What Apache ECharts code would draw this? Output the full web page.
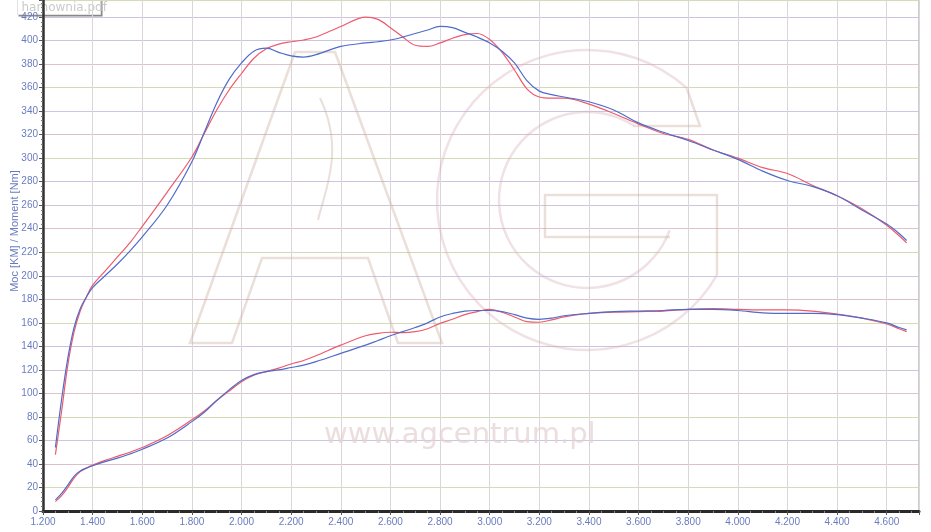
<!DOCTYPE html>
<html><head><meta charset="utf-8">
<script src="https://cdn.jsdelivr.net/npm/echarts@6/dist/echarts.min.js"></script>
<style>html,body{margin:0;padding:0;background:#fff}#c{width:931px;height:532px}</style>
</head><body><div id="c"></div>
<script>
const rpm = [1250,1275,1300,1325,1350,1375,1400,1450,1500,1550,1600,1700,1800,1850,1900,1950,2000,2050,2100,2150,2200,2250,2300,2400,2500,2550,2600,2650,2700,2750,2800,2850,2900,2950,3000,3050,3100,3150,3200,3250,3300,3400,3500,3600,3700,3800,3900,4000,4100,4200,4300,4400,4500,4600,4650,4680];
const torqueBlue = [54,95,130,156,172,182,190,200,210,221,233,260,297,322,347,367,381,391,393.5,390,387,386,388,395,398,399,400.5,403,406,409,412,411,407,403,398,391,381,366,357,354,352,348,341,330,322,315,307,299,289,281,276,268,256,244,236,230];
const torqueRed = [48,85,124,152,170,182,192,204,216,228,242,271,301,321,341,358,372,385,393,397,399,400.5,403,412,420,418,411,403,396,395,398,402,405,406,401,390,375,359,352,351,351,346,338,329,321,316,307,300,292,287,277,268,257,243,234,228];
const powerBlue = [9.5,15,22,29.5,34,36.5,38.5,42,45,48.5,52.5,62,76,84,94,103,111,116,118.5,120,122,124,127,134,141,145,149,152.5,156,160,165,168,170,170.5,170.5,169.5,167,164,163,164,166,168,169.5,170,170.5,171.5,171.5,170.5,168.5,168,168,167,164,160,156,154];
const powerRed = [8,13,20,28,33.5,36.5,39,43,46.5,50,54,64,77.5,85,94,102,110,115.5,118.5,121.5,125,128,132,141,149,151,152,151.6,152.5,155,159.5,163,167,169.5,171.5,169,165,161,160.5,162.5,165,168,169,169.5,170,171.5,172,171.5,171,171,170,167.5,164,159,155,152.5];
const xTickStep = 200;
const yTickStep = 20;

const pair = arr => rpm.map((r, i) => [r, arr[i]]);
const chart = echarts.init(document.getElementById('c'));
const wm = 'rgba(200,172,155,0.38)';
const wm2 = 'rgba(215,175,185,0.38)';
const labelColor = '#6a7cbf';
const deg = Math.PI / 180;

chart.setOption({
  animation: false,
  backgroundColor: '#fff',
  grid: { left: 43, right: 12, top: 0, bottom: 21, show: true, borderColor: '#9a9a9a', borderWidth: 1 },
  xAxis: {
    type: 'value', min: 1200, max: 4730, interval: xTickStep,
    axisLine: { show: true, lineStyle: { color: '#2a2a2a', width: 3 } },
    axisTick: { show: true, length: 4, lineStyle: { color: '#555' } },
    minorTick: { show: true, splitNumber: 4, length: 2, lineStyle: { color: '#888' } },
    axisLabel: { color: labelColor, fontSize: 10, fontFamily: 'Liberation Sans', margin: 6, showMaxLabel: false,
      formatter: v => (v / 1000).toFixed(3) },
    splitLine: { show: true, lineStyle: { color: '#dcd6da', width: 1 } }
  },
  yAxis: {
    type: 'value', min: 0, max: 434.5, interval: yTickStep,
    axisLine: { show: true, lineStyle: { color: '#333', width: 2.5 } },
    axisTick: { show: true, length: 4, lineStyle: { color: '#555' } },
    minorTick: { show: true, splitNumber: 5, length: 2, lineStyle: { color: '#777' } },
    axisLabel: { color: labelColor, fontSize: 10, fontFamily: 'Liberation Sans', margin: 5, showMaxLabel: false },
    splitLine: { show: true, lineStyle: { color: ['#cdc3dc','#d3dbb9','#dbbfce','#c9c8e0','#d3d9b6','#ddc2cf','#cbc5de'], width: 1 } }
  },
  graphic: [
    { type: 'polygon', z: 1, silent: true,
      shape: { points: [[190,343],[295,52],[335,52],[442,343],[398,343],[368,258],[262,258],[232,343]] },
      style: { fill: 'none', stroke: wm, lineWidth: 2.5 } },
    { type: 'bezierCurve', z: 1, silent: true,
      shape: { x1: 320, y1: 98, cpx1: 345, cpy1: 150, cpx2: 325, cpy2: 190, x2: 318, y2: 220 },
      style: { fill: 'none', stroke: wm, lineWidth: 2 } },
    { type: 'arc', z: 1, silent: true,
      shape: { cx: 587, cy: 200, r: 150, startAngle: 30 * deg, endAngle: 312 * deg, clockwise: true },
      style: { fill: 'none', stroke: wm2, lineWidth: 2.5 } },
    { type: 'arc', z: 1, silent: true,
      shape: { cx: 587, cy: 200, r: 88, startAngle: 20 * deg, endAngle: 302 * deg, clockwise: true },
      style: { fill: 'none', stroke: wm2, lineWidth: 2.5 } },
    { type: 'polyline', z: 1, silent: true,
      shape: { points: [[717,275],[717,195],[545,195],[545,237],[670,237]] },
      style: { fill: 'none', stroke: wm, lineWidth: 2.5 } },
    { type: 'polyline', z: 1, silent: true,
      shape: { points: [[633,126],[700,126],[687,89]] },
      style: { fill: 'none', stroke: wm, lineWidth: 2.5 } },
    { type: 'text', z: 1, silent: true, left: 324, top: 421,
      style: { text: 'www.agcentrum.pl', fill: 'rgba(228,208,208,0.7)', font: '29px "DejaVu Sans"' } },
    { type: 'text', z: 5, silent: true, x: 15, y: 231, rotation: Math.PI / 2,
      style: { text: 'Moc [KM] / Moment [Nm]', fill: labelColor, font: '11px "Liberation Sans"', align: 'center', verticalAlign: 'middle' } },
    { type: 'group', z: 10, left: 17, top: -2, children: [
      { type: 'rect', shape: { x: 1, y: 1, width: 84, height: 17 }, style: { fill: '#888' } },
      { type: 'rect', shape: { x: 0, y: 0, width: 83, height: 16 }, style: { fill: '#fff', stroke: '#e2e2e2', lineWidth: 1 } },
      { type: 'text', x: 4, y: 3, style: { text: 'hamownia.pdf', fill: '#cacaca', font: '12px "DejaVu Sans"' } }
    ] }
  ],
  series: [
    { type: 'line', name: 'torqueRed', data: pair(torqueRed), smooth: 0.35, showSymbol: false, z: 3,
      lineStyle: { color: '#ef5a6c', width: 1.2 } },
    { type: 'line', name: 'torqueBlue', data: pair(torqueBlue), smooth: 0.35, showSymbol: false, z: 4,
      lineStyle: { color: '#4f6cc8', width: 1.2 } },
    { type: 'line', name: 'powerRed', data: pair(powerRed), smooth: 0.35, showSymbol: false, z: 3,
      lineStyle: { color: '#ef5a6c', width: 1.2 } },
    { type: 'line', name: 'powerBlue', data: pair(powerBlue), smooth: 0.35, showSymbol: false, z: 4,
      lineStyle: { color: '#4f6cc8', width: 1.2 } }
  ]
});
</script>
</body></html>
